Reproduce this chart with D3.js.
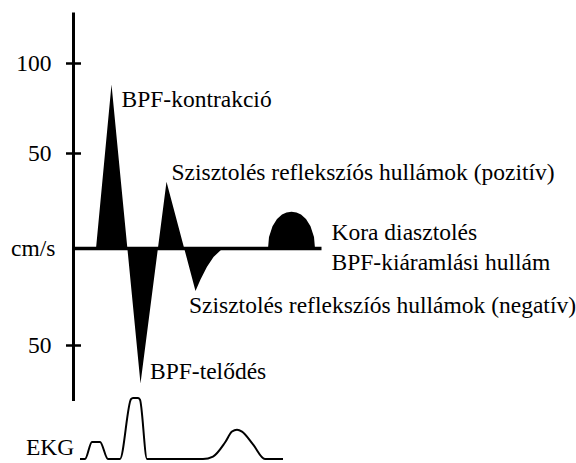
<!DOCTYPE html>
<html>
<head>
<meta charset="utf-8">
<script src="https://cdn.jsdelivr.net/npm/d3@7"></script>
<style>
  html, body { margin: 0; padding: 0; background: #fff; }
  svg { display: block; }
</style>
</head>
<body>
<svg id="chart" width="576" height="463"></svg>
<script>
// ---- Data (time in ms, velocity in cm/s) ----
const flowTime  = [0, 45, 76, 134, 186, 244, 254, 267, 280, 298, 389, 391, 398, 407, 417, 426, 436, 446, 455, 465, 474, 481, 483, 496];
const flowValue = [0, 0, 88, -70, 35, -22, -16, -9.5, -4.4, 0, 0, 6, 11.6, 15.5, 17.8, 18.9, 19.3, 18.9, 17.8, 15.5, 11.6, 6, 0, 0];

const ekgTime  = [13, 23, 37, 53, 69, 93, 115, 119, 129, 133, 147, 259, 279, 303, 317, 327, 337, 359, 383, 419];
const ekgValue = [0, 0, 0.28, 0.28, 0, 0, 0.98, 1.0, 1.0, 0.97, 0, 0, 0.04, 0.27, 0.45, 0.48, 0.45, 0.24, 0, 0];

const tickValues = [100, 50, 0, -50];
const tickLabels = ["100", "50", "cm/s", "50"];

const annotations = [
  { t: 96,  v: 75.7,  text: "BPF-kontrakció" },
  { t: 196, v: 35.9,  text: "Szisztolés reflekszíós hullámok (pozitív)" },
  { t: 231, v: -33.2, text: "Szisztolés reflekszíós hullámok (negatív)" },
  { t: 153, v: -67.8, text: "BPF-telődés" },
  { t: 516, v: 4.45,  text: "Kora diasztolés" },
  { t: 516, v: -11,   text: "BPF-kiáramlási hullám" }
];

const FONT = "'Liberation Serif', 'Times New Roman', Tinos, serif";
const FSIZE = 23.5;

// ---- Scales ----
const svg = d3.select("#chart");
const x = d3.scaleLinear().domain([0, 500]).range([73.5, 323.5]);
const y = d3.scaleLinear().domain([-50, 0, 50, 100]).range([345, 248.5, 153, 63]);
const yEkg = d3.scaleLinear().domain([0, 1]).range([459, 398]);

// ---- Flow area ----
const area = d3.area()
  .x((d, i) => x(flowTime[i]))
  .y0(y(0))
  .y1((d, i) => y(flowValue[i]))
  .curve(d3.curveLinear);
svg.append("path")
  .attr("d", area(flowValue))
  .attr("fill", "#000");

// ---- Baseline ----
svg.append("line")
  .attr("x1", x(0)).attr("x2", x(496))
  .attr("y1", y(0)).attr("y2", y(0))
  .attr("stroke", "#000").attr("stroke-width", 3.5);

// ---- Vertical axis ----
const axis = d3.axisLeft(y)
  .tickValues(tickValues.filter(v => v !== 0))
  .tickFormat("")
  .tickSizeInner(7.5)
  .tickSizeOuter(0);
const axisG = svg.append("g").attr("transform", `translate(${x(0)},0)`).call(axis);
axisG.select(".domain").remove();
axisG.selectAll(".tick line")
  .attr("x1", 7.5).attr("x2", -7.5)
  .attr("stroke", "#000").attr("stroke-width", 2.5);
svg.append("line")
  .attr("x1", x(0)).attr("x2", x(0))
  .attr("y1", y(128)).attr("y2", y(-79))
  .attr("stroke", "#000").attr("stroke-width", 3);

svg.selectAll("text.tl")
  .data(tickValues)
  .join("text")
  .attr("class", "tl")
  .attr("x", (d, i) => x(0) - (tickLabels[i] === "cm/s" ? 18 : 22))
  .attr("y", d => y(d))
  .attr("dy", "0.34em")
  .attr("text-anchor", "end")
  .style("font-family", FONT).style("font-size", FSIZE + "px")
  .text((d, i) => tickLabels[i]);

// ---- Annotations ----
svg.selectAll("text.ann")
  .data(annotations)
  .join("text")
  .attr("class", "ann")
  .attr("x", d => x(d.t))
  .attr("y", d => y(d.v))
  .style("font-family", FONT).style("font-size", FSIZE + "px")
  .text(d => d.text);

// ---- EKG ----
const ekgLine = d3.line()
  .x((d, i) => x(ekgTime[i]))
  .y(d => yEkg(d))
  .curve(d3.curveMonotoneX);
svg.append("path")
  .attr("d", ekgLine(ekgValue))
  .attr("fill", "none")
  .attr("stroke", "#000")
  .attr("stroke-width", 2);

svg.append("text")
  .attr("x", 26)
  .attr("y", 455)
  .style("font-family", FONT).style("font-size", FSIZE + "px")
  .text("EKG");
</script>
</body>
</html>
